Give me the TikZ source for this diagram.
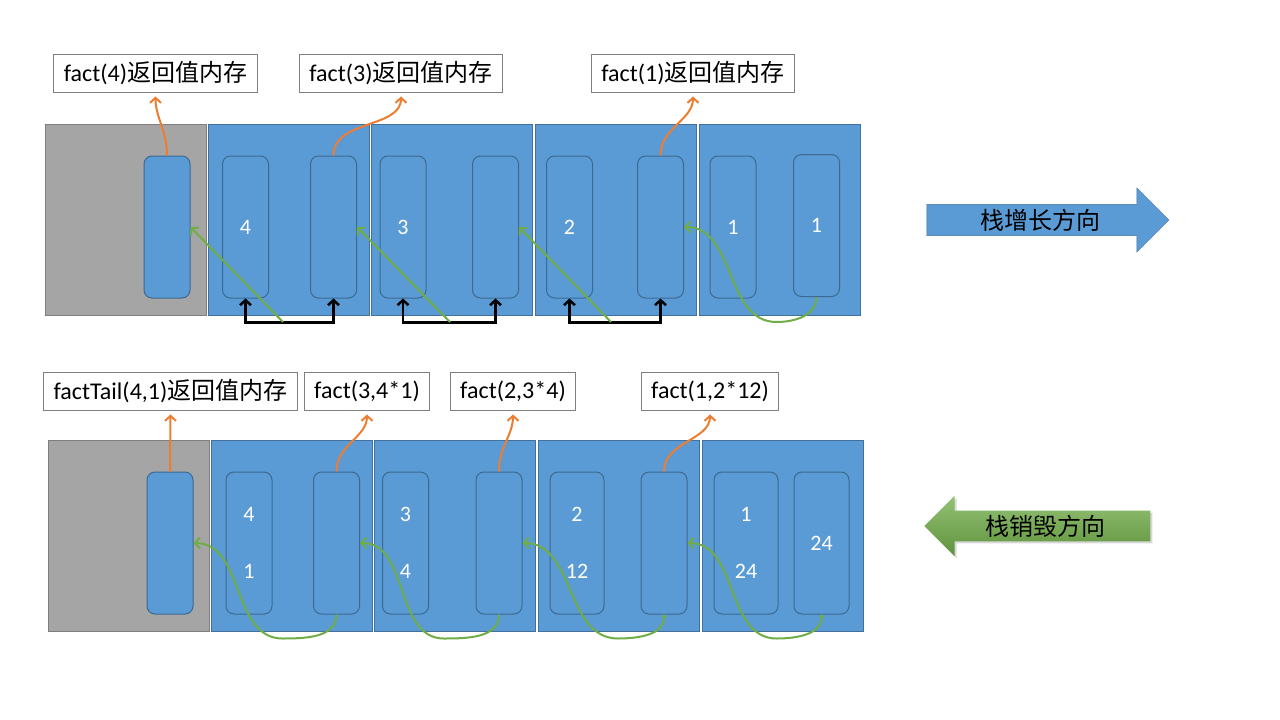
\documentclass[tikz,border=0pt]{standalone}
\usepackage{fontspec}
\setmainfont{Carlito}
\newfontfamily\cjk{Noto Sans CJK SC}
\usepackage{xcolor}
\usetikzlibrary{arrows.meta,shapes.arrows,shadows}

\definecolor{stackblue}{HTML}{5B9BD5}
\definecolor{frameline}{HTML}{41719C}
\definecolor{slotline}{HTML}{3C6990}
\definecolor{callergray}{HTML}{A5A5A5}
\definecolor{grayline}{HTML}{7F7F7F}
\definecolor{retorange}{HTML}{ED7D31}
\definecolor{callgreen}{HTML}{70AD47}

\tikzset{
  stackframe/.style={draw=frameline, fill=stackblue, anchor=north west, minimum width=161pt, minimum height=191pt, inner sep=0pt},
  caller/.style={stackframe, draw=grayline, fill=callergray},
  slot/.style={draw=slotline, line width=1pt, fill=stackblue, rounded corners=8pt, minimum width=46pt, minimum height=142pt, inner sep=0pt, text=white, align=center, font=\fontsize{22}{57}\selectfont},
  lbl/.style={draw=grayline, line width=1pt, fill=white, minimum height=38pt, inner xsep=10pt, inner ysep=0pt, font=\fontsize{24}{28}\selectfont},
  ret/.style={->, draw=retorange, line width=2pt, shorten >=4pt},
  call/.style={->, draw=callgreen, line width=2pt},
  link/.style={<->, line width=2.5pt},
  growarrow/.style={single arrow, draw=frameline, fill=stackblue, minimum height=242pt, minimum width=64pt, single arrow head extend=16pt, inner sep=4pt, font=\cjk\fontsize{24}{28}\selectfont},
  shrinkarrow/.style={single arrow, shape border rotate=180, top color=callgreen!75!white, bottom color=callgreen!85!black, draw=none, drop shadow={opacity=0.3, shadow xshift=2pt, shadow yshift=-2pt}, minimum height=226pt, minimum width=60pt, single arrow head extend=15pt, inner sep=4pt, font=\cjk\fontsize{24}{28}\selectfont}
}

\begin{document}
\begin{tikzpicture}[x=1pt, y=1pt, >={Straight Barb[length=5pt,width=11pt]}]
    \useasboundingbox (0,0) rectangle (1280,-720);
    \fill[white] (0,0) rectangle (1280,-720);

    \node[caller] (main) at (45,-124) {};
    \node[stackframe] (f4) at (208,-124) {};
    \node[stackframe] (f3) at (371,-124) {};
    \node[stackframe] (f2) at (535,-124) {};
    \node[stackframe] (f1) at (699,-124) {};

    \node[slot] (ret4) at (167,-227) {};
    \node[slot] (n4) at (245.5,-227) {4};
    \node[slot] (ret3) at (333.5,-227) {};
    \node[slot] (n3) at (403,-227) {3};
    \node[slot] (ret2) at (495.5,-227) {};
    \node[slot] (n2) at (569.5,-227) {2};
    \node[slot] (ret1) at (660.5,-227) {};
    \node[slot] (n1) at (733,-227) {1};
    \node[slot] (v1) at (816.5,-225.5) {1};

    \node[lbl] (l4) at (155.5,-73) {fact(4){\cjk 返回值内存}};
    \node[lbl] (l3) at (401,-73) {fact(3){\cjk 返回值内存}};
    \node[lbl] (l1) at (693,-73) {fact(1){\cjk 返回值内存}};

    \draw[ret] (ret4.north) to[out=90,in=-90] (l4.south);
    \draw[ret] (ret3.north) to[out=90,in=-90] (l3.south);
    \draw[ret] (ret1.north) to[out=90,in=-90] (l1.south);

    \draw[link] (n4.south) -- ++(0,-24) -| (ret3.south);
    \draw[link] (n3.south) -- ++(0,-24) -| (ret2.south);
    \draw[link] (n2.south) -- ++(0,-24) -| (ret1.south);

    \coordinate (m4) at (283,-322);
    \coordinate (m3) at (450,-322);
    \coordinate (m2) at (611,-322);
    \draw[call] (m4) -- (ret4.east);
    \draw[call] (m3) -- (ret3.east);
    \draw[call] (m2) -- (ret2.east);
    \draw[call] (v1.south) to[out=-90,in=0] ++(-40,-25) to[out=180,in=0] (ret1.east);

    \node[caller] (tmain) at (48,-440) {};
    \node[stackframe] (tail4) at (211,-440) {};
    \node[stackframe] (tail3) at (374,-440) {};
    \node[stackframe] (tail2) at (538,-440) {};
    \node[stackframe] (tail1) at (702,-440) {};

    \node[slot] (tret4) at (170,-543) {};
    \node[slot] (a4) at (249,-543) {4\\1};
    \node[slot] (tret3) at (336.5,-543) {};
    \node[slot] (a3) at (405.5,-543) {3\\4};
    \node[slot] (tret2) at (499,-543) {};
    \node[slot, minimum width=54pt] (a2) at (577,-543) {2\\12};
    \node[slot] (tret1) at (664,-543) {};
    \node[slot, minimum width=64pt] (a1) at (746,-543) {1\\24};
    \node[slot, minimum width=55pt] (acc) at (821.5,-543) {24};

    \node[lbl] (lt4) at (170.5,-391) {factTail(4,1){\cjk 返回值内存}};
    \node[lbl] (lt3) at (367,-391) {fact(3,4*1)};
    \node[lbl] (lt2) at (513,-391) {fact(2,3*4)};
    \node[lbl] (lt1) at (710,-391) {fact(1,2*12)};

    \draw[ret] (tret4.north) to[out=90,in=-90] (lt4.south);
    \draw[ret] (tret3.north) to[out=90,in=-90] (lt3.south);
    \draw[ret] (tret2.north) to[out=90,in=-90] (lt2.south);
    \draw[ret] (tret1.north) to[out=90,in=-90] (lt1.south);

    \draw[call] (tret3.south) to[out=-90,in=0] ++(-54,-24) to[out=180,in=0] (tret4.east);
    \draw[call] (tret2.south) to[out=-90,in=0] ++(-55,-24) to[out=180,in=0] (tret3.east);
    \draw[call, {Circle[length=4pt]}->] (tret1.south) to[out=-90,in=0] ++(-46,-24) to[out=180,in=0] (tret2.east);
    \draw[call, {Circle[length=4pt]}->] (acc.south) to[out=-90,in=0] ++(-45,-24) to[out=180,in=0] (tret1.east);

    \node[growarrow] (up) at (1040,-220) {栈增长方向};
    \node[shrinkarrow] (down) at (1045,-526) {栈销毁方向};
\end{tikzpicture}
\end{document}
